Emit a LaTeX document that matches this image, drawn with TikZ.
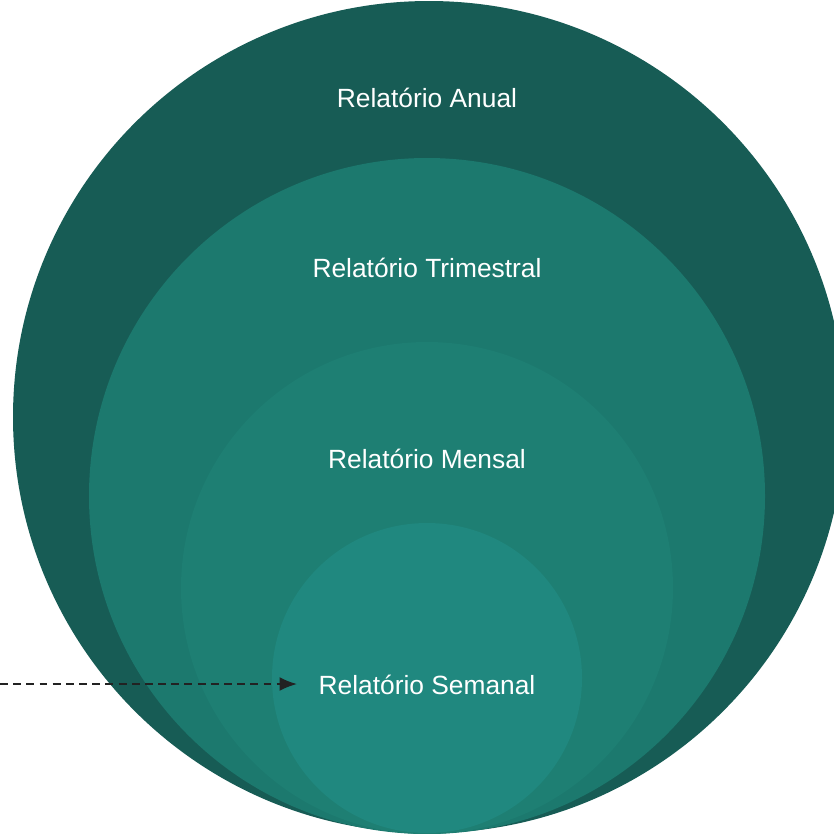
\documentclass[tikz,border=0pt]{standalone}
\usepackage{fontspec}
\setmainfont{Liberation Sans}
\usetikzlibrary{positioning}
\usetikzlibrary{arrows.meta}

\definecolor{anualcol}{HTML}{175C55}
\definecolor{trimcol}{HTML}{1C796E}
\definecolor{mensalcol}{HTML}{1E7F73}
\definecolor{semcol}{HTML}{20887F}
\definecolor{arrowcol}{HTML}{222222}

\tikzset{
  ring/.style={circle, draw=none, inner sep=0pt},
  title/.style={text=white, font=\fontsize{15}{18}\selectfont, inner sep=0pt}
}

\begin{document}
\begin{tikzpicture}[x=0.02cm, y=-0.02cm]
       \useasboundingbox (0,0) rectangle (834,833);
       \clip (0,0) rectangle (834,833);

       % nested circles, all touching the bottom
       \node[ring, fill=anualcol, minimum size=832*0.02cm] (anual) at (429,417) {};
       \node[ring, fill=trimcol, minimum size=676*0.02cm] (trim) at (427,496) {};
       \node[ring, fill=mensalcol, minimum size=492*0.02cm] (mensal) at (427,588) {};
       \node[ring, fill=semcol, minimum size=310*0.02cm] (sem) at (427,678) {};

       % labels
       \node[title] (tanual) at (427,98) {Relatório Anual};
       \node[title] (ttrim) at (427,268) {Relatório Trimestral};
       \node[title] (tmensal) at (427,459) {Relatório Mensal};
       \node[title] (tsem) at (427,685) {Relatório Semanal};

       % incoming arrow
       \coordinate (start) at (0,684);
       \coordinate (tip) at (297,684);
       \draw [arrowcol, line width=1.1pt, dash pattern=on 4.5pt off 3pt, -{Latex[length=3.5mm, width=2.8mm]}] (start) -- (tip);
\end{tikzpicture}
\end{document}
